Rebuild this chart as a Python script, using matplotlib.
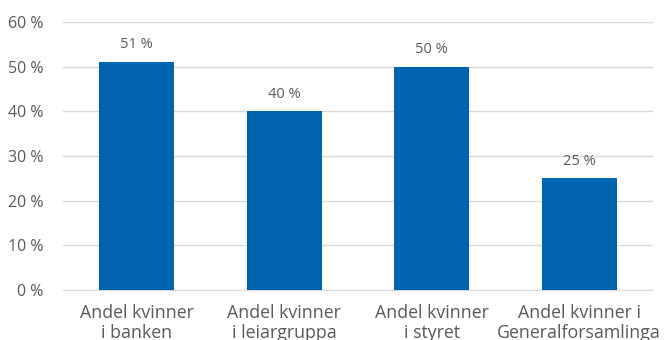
import matplotlib
matplotlib.use("Agg")
import matplotlib.pyplot as plt

categories = ["Andel kvinner\ni banken", "Andel kvinner\ni leiargruppa",
              "Andel kvinner\ni styret", "Andel kvinner i\nGeneralforsamlinga"]
values = [51, 40, 50, 25]
yticks = [0, 10, 20, 30, 40, 50, 60]

plt.rcParams["font.family"] = ["Open Sans", "DejaVu Sans"]
text_color = "#595959"

fig = plt.figure(figsize=(6.65, 3.4), dpi=100)
ax = fig.add_axes([63 / 665, 1 - 290 / 340, 590 / 665, 268 / 340])

x = range(len(categories))
bars = ax.bar(x, values, width=0.51, color="#0063AF", zorder=3)
for b, v in zip(bars, values):
    ax.text(b.get_x() + b.get_width() / 2, v + 2.2, f"{v} %",
            ha="center", va="bottom", fontsize=10.5, color=text_color)

ax.set_xlim(-0.5, len(categories) - 0.5)
ax.set_ylim(0, 60)
ax.set_yticks(yticks)
ax.set_yticklabels([f"{t} %" for t in yticks], fontsize=11.5, color=text_color)
ax.set_xticks(list(x))
ax.set_xticklabels(categories, fontsize=12.8, color=text_color, linespacing=1.15)
ax.yaxis.grid(True, color="#D9D9D9", linewidth=1, zorder=0)
ax.tick_params(axis="both", length=0)
ax.tick_params(axis="y", pad=14)
ax.tick_params(axis="x", pad=10)
for s in ["top", "right", "left"]:
    ax.spines[s].set_visible(False)
ax.spines["bottom"].set_color("#D9D9D9")

fig.savefig("out.png", dpi=100)
